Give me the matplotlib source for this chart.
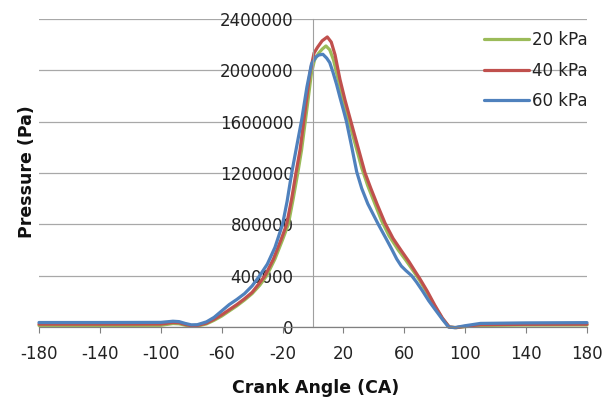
import matplotlib
matplotlib.use("Agg")
import matplotlib.pyplot as plt

plt.rcParams["axes.unicode_minus"] = False

# crank angle (deg) and cylinder pressure (Pa)
ca_20 = [-180, -140, -100, -92, -88, -84, -80, -76, -70, -65, -60, -55, -50, -45, -40, -35,
         -30.4, -25, -20, -16.2, -13, -10, -7.5, -4, -1, 1, 3.5, 6, 8.5, 11, 13.5, 16.5, 19.5,
         23, 26, 29.5, 32, 36, 40, 45, 50, 56, 61, 66, 70, 75, 80, 85, 89.5, 94, 100, 110,
         140, 180]
p_20 = [12000, 12000, 13000, 27000, 25000, 14000, 5000, 7000, 24000, 52000, 85000, 125000,
        165000, 210000, 260000, 325000, 400000, 530000, 680000, 800000, 1000000, 1200000,
        1380000, 1700000, 1980000, 2080000, 2130000, 2165000, 2190000, 2160000, 2080000,
        1930000, 1780000, 1630000, 1500000, 1350000, 1240000, 1100000, 980000, 830000, 710000,
        600000, 520000, 435000, 365000, 265000, 160000, 65000, 0, -5000, 3000, 12000, 15000,
        16000]

ca_40 = [-180, -140, -100, -92, -88, -84, -80, -76, -70, -65, -60, -55, -50, -45, -40, -36,
         -31.5, -26, -21, -17.3, -14, -11.2, -8.5, -5, -2, 0.7, 3, 6, 9.4, 12, 14.5, 17.7, 21,
         24, 27, 30.5, 34.2, 38, 42, 47.3, 52.6, 58, 63, 67, 70, 75, 80, 85, 89.5, 94, 100,
         110, 140, 180]
p_40 = [22000, 22000, 23000, 35000, 33000, 20000, 10000, 12000, 30000, 60000, 95000, 135000,
        175000, 220000, 270000, 330000, 400000, 530000, 680000, 800000, 1000000, 1200000,
        1380000, 1700000, 1980000, 2135000, 2180000, 2230000, 2260000, 2220000, 2120000,
        1930000, 1770000, 1640000, 1510000, 1360000, 1200000, 1080000, 960000, 810000, 690000,
        595000, 510000, 435000, 380000, 280000, 170000, 70000, 0, -5000, 5000, 18000, 21000,
        22000]

ca_60 = [-180, -140, -100, -92, -88, -84, -80, -76, -70, -65, -61, -55, -50, -45, -40, -35,
         -30, -25, -20, -17, -14, -11, -7.5, -4, -1, 2, 4, 6.5, 9, 11, 13, 15.5, 17.7, 20, 22,
         25.5, 28.7, 32, 36, 42.9, 48.4, 52, 55, 58, 61, 64.8, 68, 72, 76, 80, 85, 89, 93,
         100, 110, 140, 180]
p_60 = [35000, 35000, 36000, 45000, 42000, 28000, 17000, 18000, 40000, 75000, 115000, 175000,
        215000, 260000, 320000, 400000, 490000, 620000, 800000, 980000, 1200000, 1390000,
        1610000, 1870000, 2050000, 2105000, 2120000, 2125000, 2095000, 2060000, 1990000,
        1890000, 1790000, 1690000, 1600000, 1400000, 1210000, 1080000, 960000, 800000, 680000,
        600000, 530000, 475000, 440000, 400000, 350000, 280000, 205000, 140000, 60000, 0,
        -5000, 10000, 28000, 32000, 34000]

x_ticks = list(range(-180, 181, 40))
y_ticks = list(range(0, 2400001, 400000))

fig = plt.figure(figsize=(6.07, 4.01), dpi=100)
ax = fig.add_axes([39 / 607, 1 - 327 / 401, 548 / 607, 308 / 401])

line_kw = dict(lw=2.3, clip_on=False, solid_joinstyle="round", solid_capstyle="round")
ax.plot(ca_20, p_20, color="#9BBB59", label="20 kPa", **line_kw)
ax.plot(ca_40, p_40, color="#C0504D", label="40 kPa", **line_kw)
ax.plot(ca_60, p_60, color="#4F81BD", label="60 kPa", **line_kw)

ax.set_xlim(-180, 180)
ax.set_ylim(0, 2400000)
ax.set_xticks(x_ticks)
ax.set_yticks(y_ticks)
ax.set_yticklabels([str(v) for v in y_ticks])

# y axis crosses at CA = 0 like the Excel original
ax.spines["left"].set_position(("data", 0))
ax.spines["left"].set_color("#A0A0A0")
ax.spines["left"].set_linewidth(0.8)
ax.spines["right"].set_visible(False)
ax.spines["top"].set_visible(False)
ax.spines["bottom"].set_color("#808080")
ax.spines["bottom"].set_linewidth(0.9)

ax.grid(axis="y", color="#A8A8A8", lw=0.9)
ax.set_axisbelow(True)
ax.tick_params(axis="x", direction="out", length=4, color="#808080", pad=9,
               labelsize=12, labelcolor="#222222")
ax.tick_params(axis="y", length=0, pad=14, labelsize=12, labelcolor="#222222")

fig.text(316 / 607, 1 - 388 / 401, "Crank Angle (CA)", ha="center", va="center",
         fontsize=12.5, fontweight="bold", color="#111111")
fig.text(27 / 607, 1 - 172 / 401, "Pressure (Pa)", ha="center", va="center",
         rotation=90, fontsize=12.5, fontweight="bold", color="#111111")

ax.legend(loc="upper left", bbox_to_anchor=(484 / 607, 1 - 31 / 401),
          bbox_transform=fig.transFigure, frameon=False, fontsize=12,
          handlelength=2.7, handletextpad=0.15, labelspacing=0.75,
          borderpad=0, borderaxespad=0, labelcolor="#222222")

fig.savefig("out.png", dpi=100)
